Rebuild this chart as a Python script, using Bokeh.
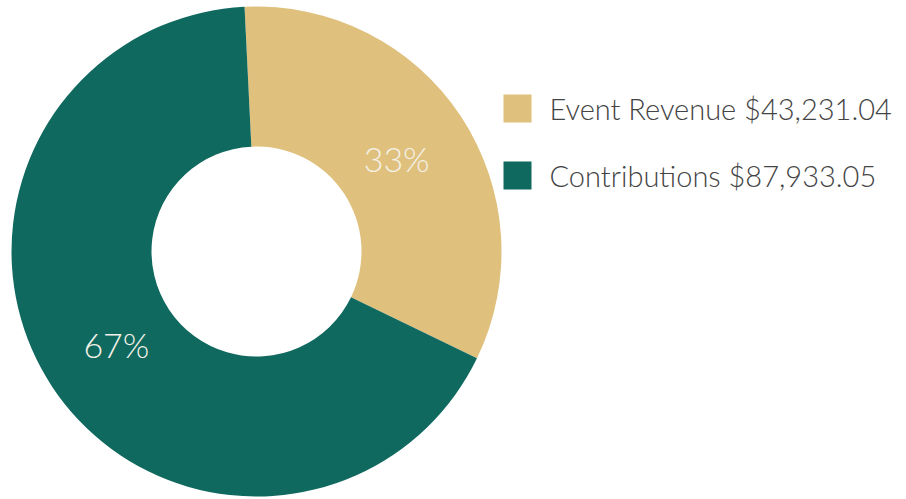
import numpy as np
from bokeh.plotting import figure
from bokeh.models import Range1d, ColumnDataSource
from bokeh.core.properties import value
from bokeh.embed import file_html
from bokeh.resources import INLINE

categories = ["Event Revenue", "Contributions"]
amounts = [43231.04, 87933.05]
colors = ["#DFC07D", "#10695F"]

W, H = 906, 499
p = figure(width=W, height=H, output_backend="svg", toolbar_location=None,
           x_range=Range1d(0, W), y_range=Range1d(499 - H, 499),
           min_border=0, outline_line_color=None)
p.axis.visible = False
p.grid.visible = False
p.background_fill_color = "white"
p.border_fill_color = "white"

cx, cy = 256, 499 - 251
r_in, r_out = 105, 245
offset_deg = -2.8  # clockwise from top where first slice starts

vals = np.array(amounts)
frac = vals / vals.sum()
cum = np.concatenate([[0], np.cumsum(frac)]) * 360.0
start_cw = offset_deg + cum[:-1]
end_cw = offset_deg + cum[1:]
start_b = np.radians(90 - end_cw)
end_b = np.radians(90 - start_cw)
mid_cw = np.radians((start_cw + end_cw) / 2)
lab_r = 168
pct = [f"{round(f * 100):d}%" for f in frac]

src = ColumnDataSource(dict(start=start_b, end=end_b, color=colors,
                            lx=cx + lab_r * np.sin(mid_cw),
                            ly=cy + lab_r * np.cos(mid_cw), pct=pct))
p.annular_wedge(x=cx, y=cy, inner_radius=r_in, outer_radius=r_out,
                start_angle="start", end_angle="end", fill_color="color",
                line_color=None, source=src)
p.text(x="lx", y="ly", text="pct", source=src, text_align="center",
       text_baseline="middle", text_color="#F4F1E8", text_font_size="34px",
       text_font=value("Lato Light"))

leg_y = [499 - 108, 499 - 175]
leg_labels = [f"{c} ${a:,.2f}" for c, a in zip(categories, amounts)]
lsrc = ColumnDataSource(dict(y=leg_y, color=colors, label=leg_labels))
p.rect(x=517, y="y", width=28, height=28, fill_color="color", line_color=None, source=lsrc)
p.text(x=549, y="y", text="label", source=lsrc, text_align="left",
       text_baseline="middle", text_color="#444444", text_font_size="29px",
       text_font=value("Lato Light"))

open("out.html", "w").write(file_html(p, INLINE))
